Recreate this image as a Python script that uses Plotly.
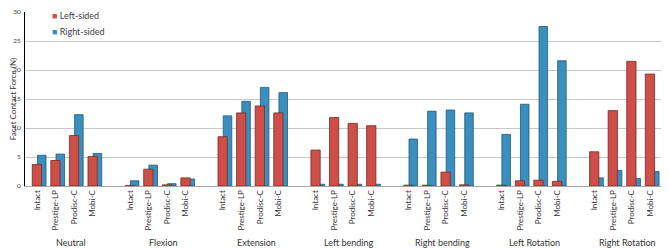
import plotly.graph_objects as go

groups = ["Neutral", "Flexion", "Extension", "Left bending", "Right bending", "Left Rotation", "Right Rotation"]
categories = ["Intact", "Prestige-LP", "Prodisc-C", "Mobi-C"]

left_sided = [
    3.7, 4.4, 8.7, 5.1,
    0.1, 2.9, 0.2, 1.4,
    8.5, 12.6, 13.8, 12.6,
    6.2, 11.8, 10.8, 10.4,
    0.15, 0.15, 2.4, 0.2,
    0.15, 0.9, 1.0, 0.8,
    5.9, 13.0, 21.5, 19.3,
]
right_sided = [
    5.3, 5.5, 12.3, 5.6,
    0.9, 3.6, 0.4, 1.2,
    12.1, 14.6, 17.0, 16.1,
    0.3, 0.3, 0.3, 0.3,
    8.1, 12.9, 13.1, 12.6,
    8.9, 14.1, 27.5, 21.6,
    1.4, 2.7, 1.3, 2.5,
]
y_ticks = [0, 5, 10, 15, 20, 25, 30]
series_names = ["Left-sided", "Right-sided"]

SLOT = len(categories) + 1
xpos, xlab = [], []
for gi, g in enumerate(groups):
    for ci, c in enumerate(categories):
        xpos.append(gi * SLOT + ci)
        xlab.append(c)

RED = "#CD4F47"
BLUE = "#3A8FBF"
FONT = "Lato"
TXT = "#333333"

# the page adds an 8px body margin, so the figure is sized to fit the window
W, H = 661, 240
ML, MR, MT, MB = 17, 4, 4, 62
PW, PH = W - ML - MR, H - MT - MB

fig = go.Figure()
fig.add_trace(go.Bar(
    x=xpos, y=right_sided, name=series_names[1],
    marker=dict(color=BLUE, line=dict(color="#1F5A7A", width=0.8)),
    offset=0.02, width=0.46,
))
fig.add_trace(go.Bar(
    x=xpos, y=left_sided, name=series_names[0],
    marker=dict(color=RED, line=dict(color="#7A2A25", width=0.8)),
    offset=-0.26, width=0.5,
))

for gi, g in enumerate(groups):
    fig.add_annotation(
        x=gi * SLOT + 1.8, xref="x", y=-57 / PH, yref="paper",
        text=g, showarrow=False, xanchor="center", yanchor="middle",
        font=dict(family=FONT, size=9, color=TXT),
    )

# legend entries
for i, (nm, col) in enumerate(zip(series_names, [RED, BLUE])):
    fig.add_annotation(
        x=(43 - ML) / PW, xref="paper", y=1 - (7 + 16 * i - MT) / PH, yref="paper",
        text=f"<span style='color:{col}'>■</span> {nm}", showarrow=False,
        xanchor="left", yanchor="middle", borderpad=0,
        font=dict(family=FONT, size=9, color="#404040"),
    )

fig.update_layout(
    width=W, height=H,
    margin=dict(l=ML, r=MR, t=MT, b=MB, autoexpand=False),
    paper_bgcolor="white", plot_bgcolor="white",
    barmode="overlay",
    font=dict(family=FONT, size=8, color=TXT),
    showlegend=False,
    xaxis=dict(
        range=[-0.65, 33.8],
        tickmode="array", tickvals=xpos, ticktext=xlab,
        tickangle=-90, tickfont=dict(family=FONT, size=8, color=TXT),
        showgrid=False, zeroline=False,
        showline=True, linecolor="#A6A6A6", linewidth=1,
        ticks="", automargin=False,
    ),
    yaxis=dict(
        range=[0, 30], tickvals=y_ticks,
        tickfont=dict(family=FONT, size=6.5, color="#404040"),
        showgrid=True, gridcolor="#C8C8C8", gridwidth=1,
        zeroline=False, showline=True, linecolor="#000000", linewidth=1,
        ticks="", ticklabelstandoff=2, automargin=False, ticklabeloverflow="allow",
        title=dict(text="Facet Contact Force (N)", font=dict(family=FONT, size=8, color=TXT), standoff=0),
    ),
)

fig.write_html("out.html")
